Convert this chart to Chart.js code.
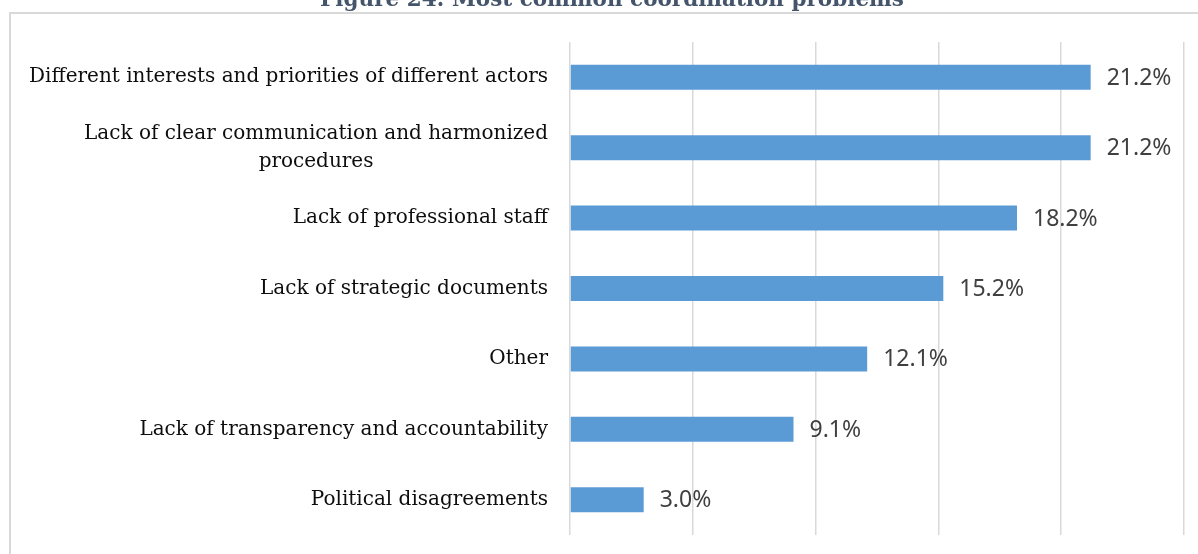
<!DOCTYPE html>
<html>
<head>
<meta charset="utf-8">
<script src="https://cdn.jsdelivr.net/npm/chart.js@4.4.1/dist/chart.umd.min.js"></script>
<style>
  html, body { margin: 0; background: #fff; }
  #wrap { position: relative; width: 1198px; height: 554px; }
</style>
</head>
<body>
<div id="wrap"><canvas id="problemsChart"></canvas></div>
<script>
const chartTitle = "Figure 24: Most common coordination problems";
const categories = [
  ["Different interests and priorities of different actors"],
  ["Lack of clear communication and harmonized", "procedures"],
  ["Lack of professional staff"],
  ["Lack of strategic documents"],
  ["Other"],
  ["Lack of transparency and accountability"],
  ["Political disagreements"],
];
const shares = [21.2, 21.2, 18.2, 15.2, 12.1, 9.1, 3.0];
const axisMin = 0;
const axisMax = 25;
const axisStep = 5;

const labelFont = '20px "DejaVu Serif", serif';
const valueFont = '23px "Noto Sans", sans-serif';

// frame, title, category labels and value labels
const decorations = {
  id: "decorations",
  beforeDraw(chart) {
    const { ctx } = chart;
    ctx.save();
    ctx.strokeStyle = "#d9d9d9";
    ctx.lineWidth = 2;
    ctx.strokeRect(10, 13, 1400, 800);
    ctx.restore();
  },
  afterDraw(chart) {
    const { ctx, chartArea } = chart;
    ctx.save();

    ctx.fillStyle = "#44546a";
    ctx.font = 'bold 21.5px "DejaVu Serif", serif';
    ctx.textAlign = "center";
    ctx.textBaseline = "alphabetic";
    ctx.fillText(chartTitle, 612, 6);

    const yScale = chart.scales.y;
    const right = chartArea.left - 22;
    const lineH = 28;
    ctx.font = labelFont;
    ctx.fillStyle = "#0d0d0d";
    ctx.textBaseline = "middle";
    ctx.textAlign = "center";
    categories.forEach((lines, i) => {
      const cy = yScale.getPixelForValue(i);
      const w = Math.max(...lines.map((l) => ctx.measureText(l).width));
      const cx = right - w / 2;
      const top = cy - ((lines.length - 1) * lineH) / 2;
      lines.forEach((l, j) => ctx.fillText(l, cx, top + j * lineH));
    });

    ctx.font = valueFont;
    ctx.fillStyle = "#404040";
    ctx.textAlign = "left";
    chart.getDatasetMeta(0).data.forEach((bar, i) => {
      ctx.fillText(shares[i].toFixed(1) + "%", bar.x + 16, bar.y + 1);
    });
    ctx.restore();
  },
};

new Chart(document.getElementById("problemsChart"), {
  type: "bar",
  data: {
    labels: categories,
    datasets: [
      {
        data: shares,
        backgroundColor: "#5b9bd5",
        categoryPercentage: 1,
        barPercentage: 0.355,
      },
    ],
  },
  options: {
    indexAxis: "y",
    responsive: true,
    maintainAspectRatio: false,
    animation: false,
    layout: { padding: { left: 0, right: 14, top: 42, bottom: 19 } },
    plugins: {
      legend: { display: false },
      tooltip: { enabled: false },
    },
    scales: {
      x: {
        min: axisMin,
        max: axisMax,
        ticks: { display: false, stepSize: axisStep },
        grid: { color: "#d9d9d9", lineWidth: 1.5, drawTicks: false },
        border: { display: false },
        afterFit: (s) => { s.height = 0; },
      },
      y: {
        ticks: { display: false },
        grid: { display: false },
        border: { display: false },
        afterFit: (s) => { s.width = 570; },
      },
    },
  },
  plugins: [decorations],
});
</script>
</body>
</html>
